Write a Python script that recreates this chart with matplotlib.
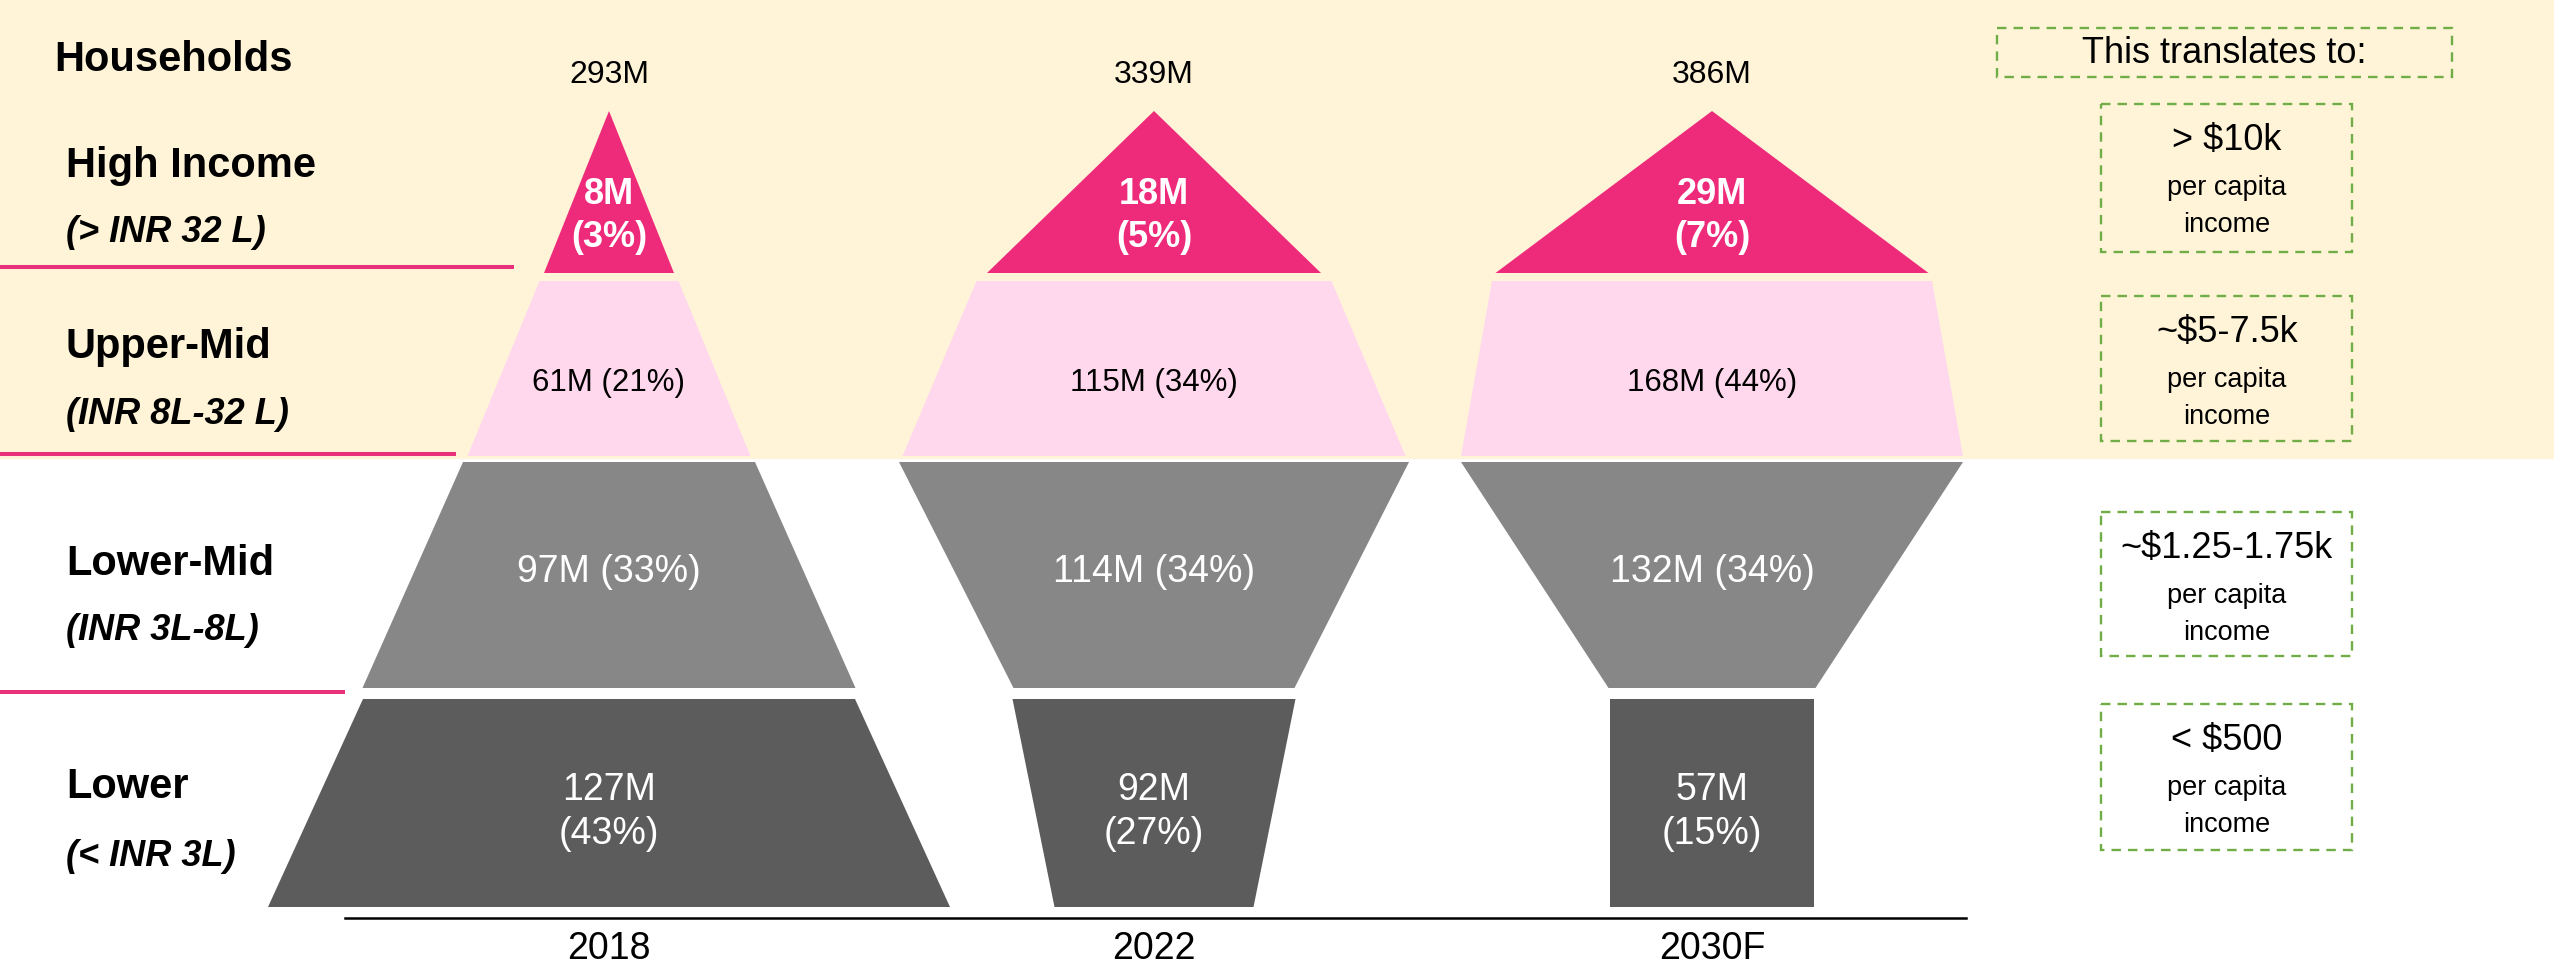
import matplotlib
matplotlib.use("Agg")
import matplotlib.pyplot as plt
from matplotlib.patches import Polygon, Rectangle

plt.rcParams['font.family'] = ['Liberation Sans', 'DejaVu Sans']

# data
years = ['2018', '2022', '2030F']
totals = ['293M', '339M', '386M']
segments = ['High Income', 'Upper-Mid', 'Lower-Mid', 'Lower']
seg_ranges = ['(> INR 32 L)', '(INR 8L-32 L)', '(INR 3L-8L)', '(< INR 3L)']
households = [[8, 61, 97, 127],
              [18, 115, 114, 92],
              [29, 168, 132, 57]]
shares = [[3, 21, 33, 43],
          [5, 34, 34, 27],
          [7, 44, 34, 15]]
per_capita = ['> $10k', '~$5-7.5k', '~$1.25-1.75k', '< $500']

# layout (pixel space of the slide)
col_x = [609, 1154, 1712]
rows = [(111, 273), (281, 456), (462, 688), (699, 907)]
# top / bottom width of each funnel piece, per year
widths = [[(0, 130), (139, 283), (292, 493), (492, 682)],
          [(0, 334), (355, 503), (510, 281), (283, 199)],
          [(0, 433), (440, 502), (502, 207), (204, 204)]]
seg_colors = ['#EE2B7B', '#FFD8EE', '#878787', '#5C5C5C']
cream = '#FFF4D8'
green = '#70AD47'

fig = plt.figure(figsize=(25.54, 9.69), dpi=100)
ax = fig.add_axes([0, 0, 1, 1])
ax.set_xlim(0, 2554)
ax.set_ylim(969, 0)
ax.axis('off')

ax.add_patch(Rectangle((0, 0), 2554, 458, color=cream, zorder=0))

# funnels
for i, yr in enumerate(years):
    cx = col_x[i]
    for j in range(4):
        y0, y1 = rows[j]
        wt, wb = widths[i][j]
        pts = [(cx - wt / 2, y0), (cx + wt / 2, y0), (cx + wb / 2, y1), (cx - wb / 2, y1)]
        ax.add_patch(Polygon(pts, closed=True, color=seg_colors[j], lw=0, zorder=2))
        v = households[i][j]
        p = shares[i][j]
        if j == 0:
            ax.text(cx, y0 + (y1 - y0) * 0.65, f'{v}M\n({p}%)', ha='center', va='center',
                    color='white', fontsize=26, fontweight='bold', linespacing=1.3, zorder=3)
        elif j == 1:
            ax.text(cx, (y0 + y1) / 2 + 14, f'{v}M ({p}%)', ha='center', va='center',
                    color='black', fontsize=22.5, zorder=3)
        elif j == 2:
            ax.text(cx, (y0 + y1) / 2 - 3, f'{v}M ({p}%)', ha='center', va='center',
                    color='white', fontsize=27, zorder=3)
        else:
            ax.text(cx, (y0 + y1) / 2 + 9, f'{v}M\n({p}%)', ha='center', va='center',
                    color='white', fontsize=27, linespacing=1.25, zorder=3)
    ax.text(cx, 75, totals[i], ha='center', va='center', fontsize=23)
    ax.text(cx, 949, yr, ha='center', va='center', fontsize=27)

ax.plot([345, 1966], [918, 918], color='black', lw=1.8, zorder=3)

# left labels
ax.text(54, 60, 'Households', ha='left', va='center', fontsize=30, fontweight='bold')
name_y = [166, 347, 564, 787]
range_y = [232, 414, 631, 856]
for j in range(4):
    ax.text(66, name_y[j], segments[j], ha='left', va='center', fontsize=30, fontweight='bold')
    ax.text(66, range_y[j], seg_ranges[j], ha='left', va='center', fontsize=26,
            fontweight='bold', fontstyle='italic')
for y, x1 in zip([267, 454, 692], [514, 456, 345]):
    ax.plot([0, x1], [y, y], color='#E8317A', lw=2.9, zorder=3, solid_capstyle='butt')

# right boxes
def dbox(x0, y0, x1, y1):
    ax.add_patch(Rectangle((x0, y0), x1 - x0, y1 - y0, fill=False, ec=green, lw=1.7,
                           ls=(0, (4, 3)), zorder=3))

dbox(1997, 28, 2452, 77)
ax.text(2224, 53, 'This translates to:', ha='center', va='center', fontsize=26)
box_y = [(104, 252), (296, 441), (512, 656), (704, 850)]
for j in range(4):
    y0, y1 = box_y[j]
    dbox(2101, y0, 2352, y1)
    ax.text(2227, y0 + 36, per_capita[j], ha='center', va='center', fontsize=26)
    ax.text(2227, y0 + 84, 'per capita', ha='center', va='center', fontsize=19.5)
    ax.text(2227, y0 + 121, 'income', ha='center', va='center', fontsize=19.5)

fig.savefig('out.png', dpi=100)
